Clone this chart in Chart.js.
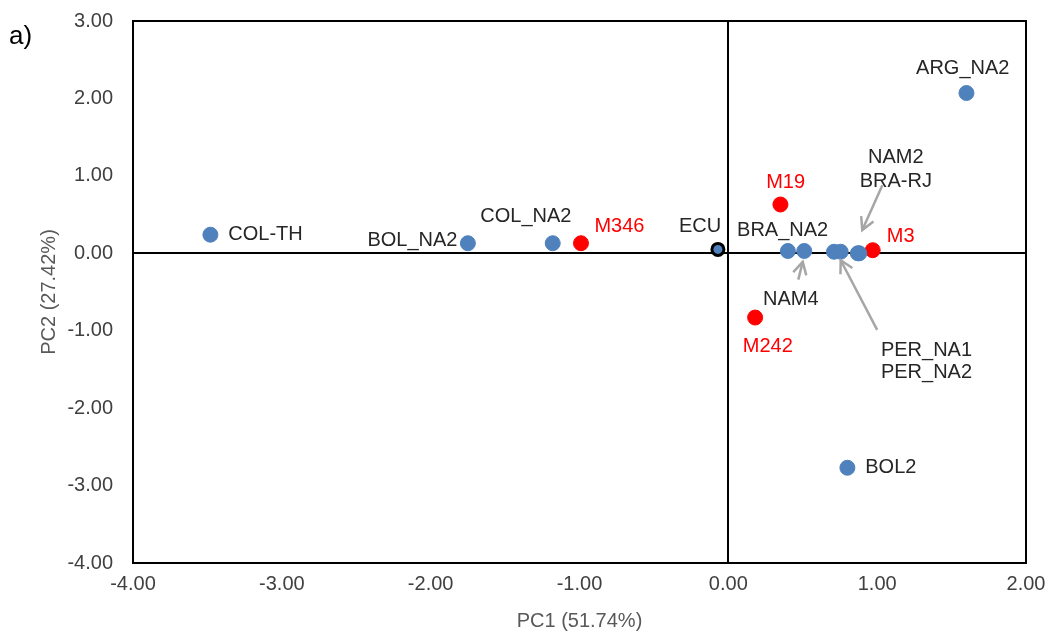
<!DOCTYPE html>
<html>
<head>
<meta charset="utf-8">
<script src="https://cdn.jsdelivr.net/npm/chart.js@4/dist/chart.umd.min.js"></script>
<style>
  html, body { margin: 0; padding: 0; background: #fff; }
  #wrap { width: 1051px; height: 633px; }
</style>
</head>
<body>
<div id="wrap"><canvas id="chart"></canvas></div>
<script>
// ─── data (PC1, PC2) ─────────────────────────────────
const blueNames = ["COL-TH", "BOL_NA2", "COL_NA2", "BRA_NA2", "NAM4", "PER_NA1", "PER_NA2", "NAM2", "BRA-RJ", "BOL2", "ARG_NA2"];
const blueX     = [-3.48, -1.75, -1.18, 0.40, 0.51, 0.71, 0.755, 0.87, 0.88, 0.80, 1.60];
const blueY     = [0.24, 0.13, 0.13, 0.03, 0.03, 0.02, 0.02, 0.00, 0.00, -2.77, 2.07];

const redNames = ["M346", "M19", "M3", "M242"];
const redX     = [-0.99, 0.35, 0.97, 0.18];
const redY     = [0.13, 0.63, 0.04, -0.83];

const ecuNames = ["ECU"];
const ecuX     = [-0.07];
const ecuY     = [0.05];

const xTicks = [-4, -3, -2, -1, 0, 1, 2];
const yTicks = [3, 2, 1, 0, -1, -2, -3, -4];

// text labels, anchored in data units: [text, x, y, align, red?]
const notes = [
  ["COL-TH", -3.36, 0.24, "left", false],
  ["BOL_NA2", -1.82, 0.16, "right", false],
  ["COL_NA2", -1.36, 0.48, "center", false],
  ["M346", -0.90, 0.35, "left", true],
  ["ECU", -0.19, 0.35, "center", false],
  ["BRA_NA2", 0.365, 0.30, "center", false],
  ["M19", 0.385, 0.92, "center", true],
  ["NAM2", 1.125, 1.24, "center", false],
  ["BRA-RJ", 1.125, 0.93, "center", false],
  ["M3", 1.065, 0.22, "left", true],
  ["NAM4", 0.42, -0.60, "center", false],
  ["M242", 0.265, -1.21, "center", true],
  ["PER_NA1", 1.025, -1.25, "left", false],
  ["PER_NA2", 1.025, -1.545, "left", false],
  ["BOL2", 0.92, -2.77, "left", false],
  ["ARG_NA2", 1.575, 2.39, "center", false]
];

// arrows: [fromX, fromY, toX, toY]
const arrows = [
  [1.035, 0.88, 0.90, 0.30],
  [0.47, -0.34, 0.50, -0.11],
  [1.00, -0.99, 0.755, -0.09]
];

const FONT = "'Liberation Sans', Arial, sans-serif";
const pts = (xs, ys) => xs.map((x, i) => ({ x: x, y: ys[i] }));

// ─── plugins ─────────────────────────────────────────
const frame = {
  id: "frame",
  afterDatasetsDraw(chart) {
    const { ctx, chartArea: a, scales } = chart;
    const sx = scales.x, sy = scales.y;
    ctx.save();
    ctx.strokeStyle = "#000";
    ctx.lineWidth = 2;
    ctx.strokeRect(a.left, a.top, a.right - a.left, a.bottom - a.top);

    // arrows
    ctx.strokeStyle = "#a6a6a6";
    ctx.lineWidth = 2.5;
    arrows.forEach(([x1, y1, x2, y2]) => {
      const p1 = [sx.getPixelForValue(x1), sy.getPixelForValue(y1)];
      const p2 = [sx.getPixelForValue(x2), sy.getPixelForValue(y2)];
      const ang = Math.atan2(p2[1] - p1[1], p2[0] - p1[0]);
      ctx.beginPath();
      ctx.moveTo(p1[0], p1[1]);
      ctx.lineTo(p2[0], p2[1]);
      ctx.stroke();
      ctx.beginPath();
      ctx.moveTo(p2[0] - 14 * Math.cos(ang - 0.5), p2[1] - 14 * Math.sin(ang - 0.5));
      ctx.lineTo(p2[0], p2[1]);
      ctx.lineTo(p2[0] - 14 * Math.cos(ang + 0.5), p2[1] - 14 * Math.sin(ang + 0.5));
      ctx.stroke();
    });

    // labels
    ctx.font = "20px " + FONT;
    ctx.textBaseline = "middle";
    notes.forEach(([t, x, y, align, red]) => {
      ctx.fillStyle = red ? "#ff0000" : "#262626";
      ctx.textAlign = align;
      ctx.fillText(t, sx.getPixelForValue(x), sy.getPixelForValue(y));
    });

    ctx.fillStyle = "#000";
    ctx.textAlign = "left";
    ctx.font = "26px " + FONT;
    ctx.fillText("a)", 9, 37);
    ctx.restore();
  }
};

const zeroGrid = c => (c.tick && c.tick.value === 0 ? "#000" : "rgba(0,0,0,0)");

new Chart(document.getElementById("chart"), {
  type: "scatter",
  data: {
    datasets: [
      { label: "samples", data: pts(blueX, blueY), backgroundColor: "#4f81bd", borderColor: "#4f81bd", pointRadius: 7.5, pointHoverRadius: 7.5 },
      { label: "M", data: pts(redX, redY), backgroundColor: "#ff0000", borderColor: "#ff0000", pointRadius: 7.5, pointHoverRadius: 7.5 },
      { label: "ECU", data: pts(ecuX, ecuY), backgroundColor: "#4f81bd", borderColor: "#000", borderWidth: 3, pointRadius: 6, pointHoverRadius: 6 }
    ]
  },
  options: {
    responsive: true,
    maintainAspectRatio: false,
    animation: false,
    layout: { padding: { top: 21, right: 25, left: 0, bottom: 0 } },
    plugins: { legend: { display: false }, tooltip: { enabled: false } },
    scales: {
      x: {
        type: "linear", min: -4, max: 2,
        afterBuildTicks: s => { s.ticks = xTicks.map(v => ({ value: v })); },
        afterFit: s => { s.height = 70; s.paddingLeft = 0; s.paddingRight = 0; },
        border: { display: false },
        grid: { color: zeroGrid, lineWidth: 2, drawTicks: false },
        ticks: { padding: 9, color: "#404040", font: { size: 20, family: FONT }, callback: v => v.toFixed(2) },
        title: { display: true, text: "PC1 (51.74%)", color: "#595959", font: { size: 20, family: FONT }, padding: { top: 0, bottom: 0 } }
      },
      y: {
        type: "linear", min: -4, max: 3,
        afterBuildTicks: s => { s.ticks = yTicks.map(v => ({ value: v })); },
        afterFit: s => { s.width = 133; s.paddingTop = 0; s.paddingBottom = 0; },
        border: { display: false },
        grid: { color: zeroGrid, lineWidth: 2, drawTicks: false },
        ticks: { padding: 20, color: "#404040", font: { size: 20, family: FONT }, callback: v => v.toFixed(2) },
        title: { display: true, text: "PC2 (27.42%)", color: "#595959", font: { size: 20, family: FONT }, padding: { top: 37, bottom: 0 } }
      }
    }
  },
  plugins: [frame]
});
</script>
</body>
</html>
